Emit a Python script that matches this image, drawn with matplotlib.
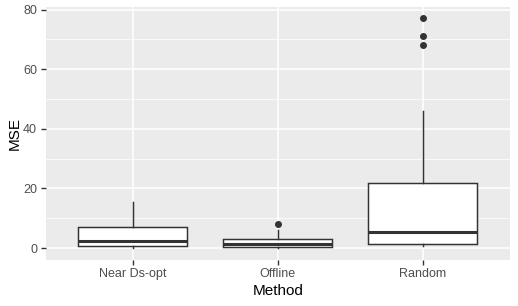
import matplotlib
matplotlib.use("Agg")
import matplotlib.pyplot as plt
from matplotlib.ticker import MultipleLocator

methods = ["Near Ds-opt", "Offline", "Random"]
q1 = [0.7, 0.3, 1.3]
medians = [2.2, 1.2, 5.5]
q3 = [6.9, 3.1, 21.8]
whisker_low = [0.0, 0.0, 0.7]
whisker_high = [15.5, 6.2, 46.1]
outliers = [[], [8.0], [68.0, 71.1, 77.0]]

plt.rcParams['font.family'] = ['Liberation Sans', 'DejaVu Sans']

fig = plt.figure(figsize=(5.18, 3.06), dpi=100)
ax = fig.add_axes([45.5 / 518, (306 - 259.5) / 306, (510 - 45.5) / 518, (259.5 - 7) / 306])
ax.set_facecolor('#EBEBEB')

stats = []
for i, m in enumerate(methods):
    stats.append({
        'label': m, 'q1': q1[i], 'med': medians[i], 'q3': q3[i],
        'whislo': whisker_low[i], 'whishi': whisker_high[i], 'fliers': outliers[i],
    })

line_c = '#333333'
ax.bxp(stats, positions=[1, 2, 3], widths=0.75, patch_artist=True, showcaps=False,
       boxprops=dict(facecolor='white', edgecolor=line_c, linewidth=1.07),
       whiskerprops=dict(color=line_c, linewidth=1.07),
       medianprops=dict(color=line_c, linewidth=2.2),
       flierprops=dict(marker='o', markerfacecolor=line_c, markeredgecolor=line_c,
                       markersize=4, linestyle='none'),
       zorder=3)

ax.set_xlim(0.4, 3.6)
ax.set_ylim(-3.85, 80.85)
ax.set_xticks([1, 2, 3])
ax.set_xticklabels(methods)
ax.yaxis.set_major_locator(MultipleLocator(20))
ax.yaxis.set_minor_locator(MultipleLocator(10))

ax.grid(True, which='major', color='white', linewidth=1.1, zorder=0)
ax.grid(True, which='minor', axis='y', color='white', linewidth=0.55, zorder=0)
ax.set_axisbelow(True)
for s in ax.spines.values():
    s.set_visible(False)

ax.tick_params(axis='both', which='major', length=3.5, width=1.0, color=line_c,
               labelsize=9, labelcolor='#4D4D4D', pad=2.5)
ax.tick_params(axis='y', which='minor', length=0)

ax.set_xlabel('Method', fontsize=11, color='black', labelpad=3)
ax.set_ylabel('MSE', fontsize=11, color='black', labelpad=1)

fig.savefig('out.png', dpi=100, facecolor='white')
